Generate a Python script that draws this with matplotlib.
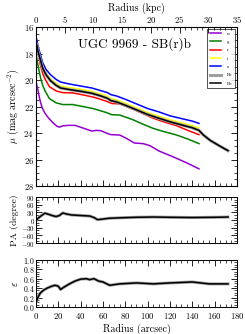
import matplotlib
matplotlib.use("Agg")
import matplotlib.pyplot as plt
from matplotlib.ticker import MultipleLocator

plt.rcParams['font.family'] = ['cmr10', 'DejaVu Serif']
plt.rcParams['mathtext.fontset'] = 'cm'
plt.rcParams['axes.formatter.use_mathtext'] = True
plt.rcParams['axes.unicode_minus'] = True

# ---- data ----
r_u = [0.5, 1.5, 3.5, 5.5, 8, 11, 15.5, 19, 21, 24.5, 30, 35, 42, 50, 54, 58, 63, 67, 75, 81, 88, 96, 102, 110, 123, 135, 146]
mu_u = [20.3, 20.7, 21.5, 22.1, 22.5, 22.85, 23.25, 23.5, 23.55, 23.45, 23.42, 23.42, 23.62, 23.85, 23.8, 23.82, 24.0, 24.12, 24.15, 24.4, 24.75, 24.8, 24.95, 25.35, 25.8, 26.25, 26.7]

r_g = [0.5, 2, 4, 6, 8, 12, 18, 24, 33, 42, 51, 57, 63, 68, 75, 87, 95, 105, 115, 126, 136, 146]
mu_g = [18.3, 19.0, 19.8, 20.4, 20.8, 21.4, 21.72, 21.85, 21.85, 22.0, 22.15, 22.3, 22.45, 22.62, 22.64, 23.0, 23.3, 23.65, 23.9, 24.15, 24.45, 24.8]

r_r = [0.5, 2, 4, 6, 8, 12, 18, 24, 33, 42, 51, 57, 63, 68, 75, 87, 95, 105, 115, 126, 136, 146]
mu_r = [17.5, 18.1, 18.9, 19.5, 19.9, 20.5, 20.82, 20.95, 20.97, 21.12, 21.28, 21.43, 21.6, 21.77, 21.8, 22.2, 22.5, 22.88, 23.17, 23.45, 23.8, 24.12]

r_i = [0.5, 2, 4, 6, 9, 13, 18, 22, 30, 40, 50, 58, 64, 67, 72, 80, 90, 100, 110, 120, 130, 140, 146]
mu_i = [17.15, 17.75, 18.35, 18.95, 19.45, 19.9, 20.25, 20.45, 20.57, 20.7, 20.85, 21.05, 21.23, 21.4, 21.5, 21.75, 22.1, 22.45, 22.73, 23.0, 23.23, 23.45, 23.62]

r_z = [0.5, 2, 4, 6, 9, 13, 18, 22, 30, 40, 50, 58, 64, 67, 72, 80, 90, 100, 110, 120, 130, 140, 146]
mu_z = [16.9, 17.5, 18.1, 18.7, 19.2, 19.6, 19.95, 20.15, 20.3, 20.45, 20.6, 20.8, 20.95, 21.1, 21.2, 21.45, 21.8, 22.15, 22.4, 22.7, 22.9, 23.1, 23.27]

r_Rc = [0.5, 2, 4, 6, 9, 13, 18, 22, 30, 40, 50, 58, 64, 67, 72, 80, 90, 100, 110, 120, 130, 140, 146, 150, 156, 164, 172]
mu_Rc = [17.3, 17.9, 18.5, 19.1, 19.6, 20.05, 20.4, 20.6, 20.72, 20.85, 21.0, 21.2, 21.38, 21.55, 21.65, 21.9, 22.25, 22.6, 22.88, 23.15, 23.38, 23.6, 23.8, 24.15, 24.55, 24.95, 25.33]

r_pa = [0.5, 2, 5, 8, 11, 15, 18, 21, 24, 27, 32, 40, 48, 52, 55, 58, 65, 75, 90, 105, 120, 140, 160, 172]
pa = [0, 8, 18, 27, 23, 17, 14, 18, 28, 24, 20, 18, 16, 10, 2, 3, 7, 9, 11, 12, 11, 10, 11, 12]

r_ell = [0.5, 2, 4, 7, 10, 14, 17, 20, 22, 25, 30, 35, 40, 45, 48, 52, 56, 60, 66, 75, 90, 105, 120, 140, 155, 172]
ell = [0.12, 0.22, 0.3, 0.36, 0.4, 0.44, 0.46, 0.44, 0.37, 0.42, 0.49, 0.55, 0.59, 0.6, 0.58, 0.6, 0.55, 0.53, 0.46, 0.49, 0.51, 0.49, 0.51, 0.53, 0.49, 0.49]

title = "UGC 9969 - SB(r)b"

fig = plt.figure(figsize=(2.45, 3.34), dpi=100)
ax1 = fig.add_axes([0.147, 0.443, 0.820, 0.476])
ax2 = fig.add_axes([0.147, 0.272, 0.820, 0.138])
ax3 = fig.add_axes([0.147, 0.081, 0.820, 0.141])

lw = 1.1
gcol = '#a0a0a0'
ax1.plot(r_u, mu_u, color='#9400D3', lw=lw, label='u')
ax1.plot(r_g, mu_g, color='green', lw=lw, label='g')
ax1.plot(r_r, mu_r, color='red', lw=lw, label='r')
ax1.plot(r_i, mu_i, color='yellow', lw=lw, label='i')
ax1.plot(r_z, mu_z, color='blue', lw=lw, label='z')
ax1.plot(r_Rc, mu_Rc, color=gcol, lw=2.2, label='Rc')
ax1.plot(r_Rc, mu_Rc, color='black', lw=lw, label='Rc')

ax1.set_xlim(0, 180)
ax1.set_ylim(28, 16)
ax1.set_ylabel(r'$\mu$ (mag arcsec$^{-2}$)', fontsize=7.2, labelpad=2)
ax1.yaxis.set_major_locator(MultipleLocator(2))
ax1.yaxis.set_minor_locator(MultipleLocator(0.5))
ax1.text(0.49, 0.89, title, transform=ax1.transAxes, fontsize=9.5, ha='center', va='center')
leg = ax1.legend(loc='upper right', fontsize=3.5, frameon=True, fancybox=False,
                 edgecolor='black', handlelength=2.2, labelspacing=0.8,
                 borderpad=0.6, handletextpad=1.2, borderaxespad=0.3)
leg.get_frame().set_linewidth(0.6)

axt = ax1.twiny()
axt.set_xlim(0, 35)
axt.set_xlabel('Radius (kpc)', fontsize=7.2, labelpad=2)
axt.xaxis.set_major_locator(MultipleLocator(5))
axt.xaxis.set_minor_locator(MultipleLocator(1))
axt.tick_params(axis='x', which='both', direction='in', labelsize=6.3, pad=1.5)
axt.tick_params(which='major', length=4, width=0.6)
axt.tick_params(which='minor', length=2, width=0.5)

ax2.plot(r_pa, pa, color=gcol, lw=2.2)
ax2.plot(r_pa, pa, color='black', lw=lw)
ax2.set_xlim(0, 180)
ax2.set_ylim(-90, 90)
ax2.yaxis.set_major_locator(MultipleLocator(30))
ax2.yaxis.set_minor_locator(MultipleLocator(10))
ax2.set_ylabel('PA (degree)', fontsize=7.0, labelpad=1)

ax3.plot(r_ell, ell, color=gcol, lw=2.2)
ax3.plot(r_ell, ell, color='black', lw=lw)
ax3.set_xlim(0, 180)
ax3.set_ylim(0, 1)
ax3.yaxis.set_major_locator(MultipleLocator(0.2))
ax3.yaxis.set_minor_locator(MultipleLocator(0.05))
ax3.set_ylabel(r'$\varepsilon$', fontsize=7.2, labelpad=2)
ax3.set_xlabel('Radius (arcsec)', fontsize=7.2, labelpad=1.5)

for ax in (ax1, ax2, ax3):
    ax.xaxis.set_major_locator(MultipleLocator(20))
    ax.xaxis.set_minor_locator(MultipleLocator(5))
    ax.tick_params(axis='both', which='both', direction='in', labelsize=6.3, pad=1.5)
    ax.tick_params(which='major', length=4, width=0.6)
    ax.tick_params(which='minor', length=2, width=0.5)
    ax.tick_params(axis='y', which='both', right=True)
    ax.tick_params(axis='x', which='both', top=(ax is not ax1))
    for s in ax.spines.values():
        s.set_linewidth(0.7)
ax1.tick_params(axis='x', labelbottom=False)
ax2.tick_params(axis='x', labelbottom=False)
ax2.tick_params(axis='y', labelsize=5.0, pad=1)
ax3.tick_params(axis='y', labelsize=5.6, pad=1)
ax3.tick_params(axis='x', pad=3)

fig.savefig('out.png', dpi=100)
